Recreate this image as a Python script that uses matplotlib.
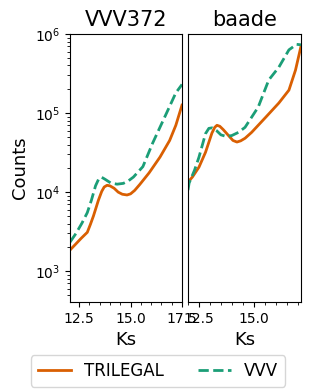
import numpy as np
import matplotlib.pyplot as plt
from matplotlib.ticker import MultipleLocator

# VVV372 field
ks_vvv372_tri = [12.06, 12.3, 12.6, 12.9, 13.05, 13.2, 13.44, 13.6, 13.72, 13.86,
                 14.0, 14.2, 14.4, 14.6, 14.83, 15.0, 15.2, 15.45, 15.9, 16.43,
                 16.9, 17.2, 17.5]
n_vvv372_tri = [1850, 2150, 2600, 3100, 3900, 5000, 7900, 10200, 11600, 12200,
                12000, 11200, 10000, 9400, 9200, 9500, 10500, 12500, 17500, 27700,
                45000, 70000, 126000]
ks_vvv372_obs = [12.06, 12.35, 12.64, 12.9, 13.1, 13.3, 13.45, 13.58, 13.75, 14.05,
                 14.35, 14.65, 14.9, 15.14, 15.6, 16.08, 16.75, 17.2, 17.5]
n_vvv372_obs = [2330, 3000, 4050, 5500, 7900, 12000, 14600, 15500, 14600, 13000,
                12600, 12900, 13900, 15500, 21000, 42000, 100000, 180000, 230000]

# baade window
ks_baade_tri = [12.0, 12.2, 12.5, 12.8, 13.09, 13.22, 13.32, 13.45, 13.6, 13.9,
                14.05, 14.23, 14.4, 14.6, 14.9, 15.55, 16.14, 16.6, 16.9, 17.15]
n_baade_tri = [13400, 15500, 20700, 32000, 55800, 66000, 70000, 68000, 62000, 50000,
               45000, 43000, 44500, 48000, 57000, 89000, 134000, 195000, 350000, 700000]
ks_baade_obs = [12.0, 12.05, 12.3, 12.5, 12.8, 12.95, 13.1, 13.3, 13.5, 13.75,
                14.0, 14.3, 14.6, 15.2, 15.68, 16.14, 16.6, 16.95, 17.15]
n_baade_obs = [10600, 13000, 19000, 27700, 55000, 64000, 65000, 60000, 53000, 50500,
               52000, 57000, 66000, 119000, 262000, 380000, 630000, 740000, 730000]

c_tri = '#d95f02'
c_obs = '#1b9e77'

fig = plt.figure(figsize=(3.16, 3.92), dpi=100)
ax1 = fig.add_axes([70 / 316, 90 / 392, 112 / 316, 268 / 392])
ax2 = fig.add_axes([188 / 316, 90 / 392, 113 / 316, 268 / 392], sharey=ax1)

ax1.plot(ks_vvv372_tri, n_vvv372_tri, '-', color=c_tri, lw=2, label='TRILEGAL')
ax1.plot(ks_vvv372_obs, n_vvv372_obs, '--', color=c_obs, lw=2, label='VVV')
ax2.plot(ks_baade_tri, n_baade_tri, '-', color=c_tri, lw=2)
ax2.plot(ks_baade_obs, n_baade_obs, '--', color=c_obs, lw=2)

ax1.set_yscale('log')
ax1.set_ylim(10 ** 2.61, 1e6)
ax1.set_xlim(12.06, 17.5)
ax2.set_xlim(12.0, 17.15)

for ax in (ax1, ax2):
    ax.xaxis.set_major_locator(MultipleLocator(2.5))
    ax.xaxis.set_minor_locator(MultipleLocator(0.5))
    ax.set_xlabel('Ks', fontsize=13)
ax2.tick_params(axis='y', which='both', left=False, labelleft=False)

ax1.set_title('VVV372', fontsize=15)
ax2.set_title('baade', fontsize=15)
ax1.set_ylabel('Counts', fontsize=13)

fig.legend(loc='lower center', ncol=2, bbox_to_anchor=(0.5, -0.008), fontsize=12)

fig.savefig('out.png', dpi=100)
